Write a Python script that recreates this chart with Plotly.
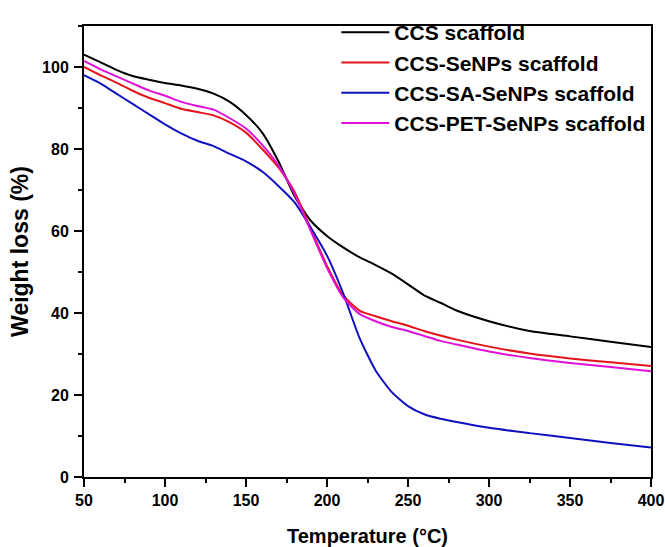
import plotly.graph_objects as go

temperature = [50, 60, 70, 80, 90, 100, 110, 120, 130, 140, 150, 160, 170, 180, 190,
               200, 210, 220, 230, 240, 250, 260, 270, 280, 300, 325, 350, 375, 400]

ccs = [103.0, 101.2, 99.3, 97.8, 96.9, 96.1, 95.5, 94.7, 93.5, 91.5, 88.3, 84.0, 77.0, 68.5, 62.5,
       58.8, 56.0, 53.6, 51.7, 49.6, 47.0, 44.3, 42.5, 40.6, 38.0, 35.6, 34.3, 33.0, 31.7]
ccs_senps = [100.0, 98.0, 96.2, 94.2, 92.5, 91.2, 89.8, 89.0, 88.2, 86.5, 84.0, 80.0, 75.5, 69.5, 60.5,
             51.5, 44.3, 40.6, 39.2, 38.0, 36.9, 35.6, 34.5, 33.5, 31.8, 30.1, 28.9, 28.0, 27.1]
ccs_sa_senps = [98.0, 96.0, 93.5, 91.0, 88.5, 86.0, 83.8, 82.0, 80.7, 78.8, 77.0, 74.5, 71.0, 67.0, 60.8,
                54.0, 44.8, 34.0, 26.0, 20.7, 17.3, 15.3, 14.2, 13.4, 12.0, 10.7, 9.5, 8.3, 7.2]
ccs_pet_senps = [101.5, 99.5, 97.7, 96.0, 94.3, 93.0, 91.5, 90.5, 89.6, 87.5, 85.0, 81.0, 76.0, 69.0, 60.0,
                 51.0, 43.8, 39.8, 38.0, 36.6, 35.6, 34.4, 33.2, 32.3, 30.6, 29.0, 27.8, 26.8, 25.8]

series_names = ["CCS scaffold", "CCS-SeNPs scaffold", "CCS-SA-SeNPs scaffold", "CCS-PET-SeNPs scaffold"]
series_values = [ccs, ccs_senps, ccs_sa_senps, ccs_pet_senps]
colors = ["#000000", "#e3141b", "#1010c0", "#e010d8"]

FONT = "Liberation Sans, Arial, sans-serif"

fig = go.Figure()
for name, vals, col in zip(series_names, series_values, colors):
    fig.add_trace(go.Scatter(
        x=temperature, y=vals, mode="lines", name=name,
        line=dict(color=col, width=2, shape="spline", smoothing=0.6),
    ))

axis_common = dict(
    showline=True, linecolor="black", linewidth=2, mirror=True,
    ticks="outside", ticklen=8, tickwidth=2, tickcolor="black",
    showgrid=False, zeroline=False, automargin=False,
    tickfont=dict(family=FONT, size=16, color="black", weight="bold"),
)

fig.update_xaxes(
    range=[50, 400], dtick=50, tick0=50,
    minor=dict(ticks="outside", ticklen=4, tickwidth=2, tickcolor="black", dtick=25, tick0=50),
    title=dict(text="Temperature (°C)", standoff=24,
               font=dict(family=FONT, size=20, color="black", weight="bold")),
    **axis_common,
)
fig.update_yaxes(
    range=[0, 110], dtick=20, tick0=0, ticklabelstandoff=2,
    minor=dict(ticks="outside", ticklen=4, tickwidth=2, tickcolor="black", dtick=10, tick0=0),
    title=dict(text="Weight loss (%)", standoff=7,
               font=dict(family=FONT, size=23, color="black", weight="bold")),
    **axis_common,
)

fig.update_layout(
    width=665, height=547,
    margin=dict(l=84, r=14, t=15, b=70),
    paper_bgcolor="white", plot_bgcolor="white",
    legend=dict(
        x=0.445, y=1.031, xanchor="left", yanchor="top",
        bgcolor="rgba(0,0,0,0)", borderwidth=0,
        font=dict(family=FONT, size=21, color="black", weight="bold"),
        tracegroupgap=0, itemwidth=48,
    ),
)

fig.write_html("out.html", config={"displayModeBar": False},
               post_script="document.body.style.margin='0';")
